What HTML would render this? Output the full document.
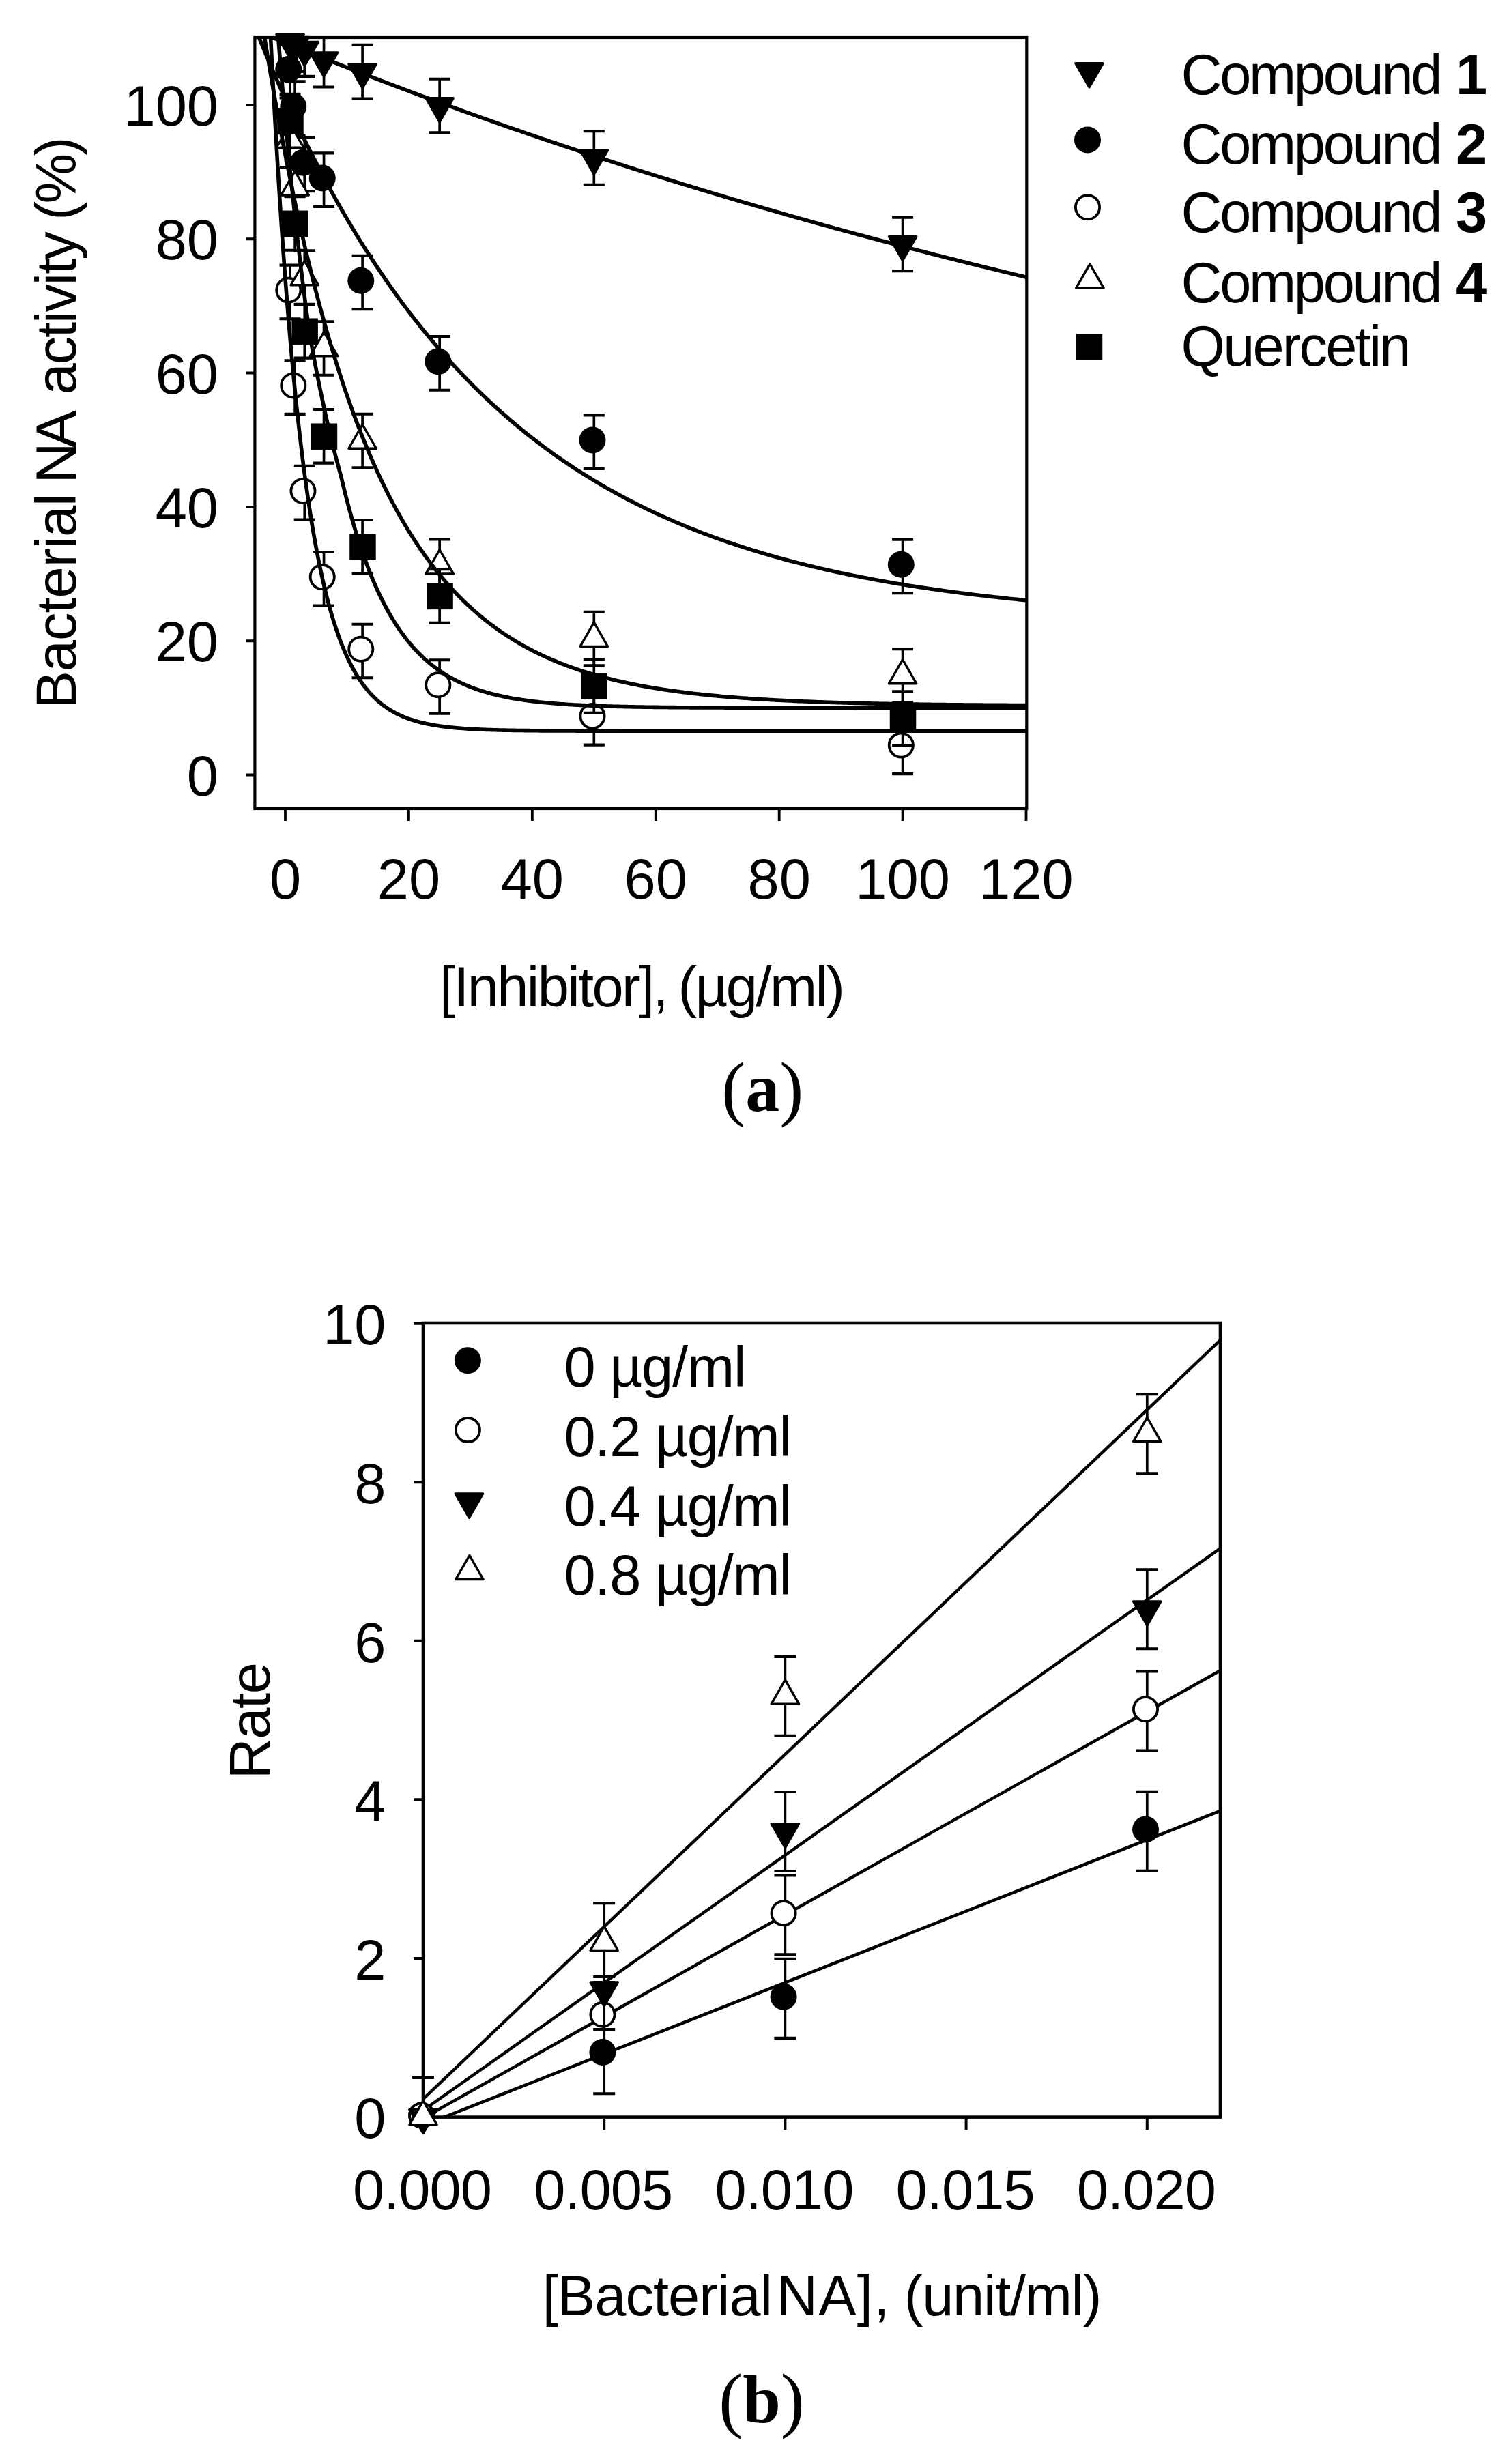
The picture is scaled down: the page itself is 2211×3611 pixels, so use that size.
<!DOCTYPE html>
<html lang="en"><head><meta charset="utf-8"><title>Bacterial NA inhibition</title>
<style>html,body{margin:0;padding:0;background:#fff}svg{display:block}text{fill:#000}</style></head><body>
<svg width="2211" height="3611" viewBox="0 0 2211 3611">
<rect x="0" y="0" width="2211" height="3611" fill="#fff"/>
<g id="chart-a">
<clipPath id="clipA"><rect x="373.4" y="55.0" width="1130.9" height="1130.0"/></clipPath>
<path d="M360 1135.5H373.4M360 939.2H373.4M360 742.9H373.4M360 546.6H373.4M360 350.3H373.4M360 154H373.4" stroke="#000" stroke-width="4" fill="none"/>
<path d="M418 1185.0V1203M598.92 1185.0V1203M779.84 1185.0V1203M960.76 1185.0V1203M1141.68 1185.0V1203M1322.6 1185.0V1203M1503.52 1185.0V1203" stroke="#000" stroke-width="3.8" fill="none"/>
<g class="series-tdown" stroke="#000" fill="#000">
<g fill="none" clip-path="url(#clipA)"><path d="M425.06 22.5V101.1" stroke-width="3.7"/><path d="M409.56 22.5h31M409.56 101.1h31" stroke-width="4.1"/><path d="M432.11 26.4V105" stroke-width="3.7"/><path d="M416.61 26.4h31M416.61 105h31" stroke-width="4.1"/><path d="M446.27 33.3V111.9" stroke-width="3.7"/><path d="M430.77 33.3h31M430.77 111.9h31" stroke-width="4.1"/><path d="M474.54 48.9V127.5" stroke-width="3.7"/><path d="M459.04 48.9h31M459.04 127.5h31" stroke-width="4.1"/><path d="M531.08 65.9V144.5" stroke-width="3.7"/><path d="M515.58 65.9h31M515.58 144.5h31" stroke-width="4.1"/><path d="M644.15 115.7V194.3" stroke-width="3.7"/><path d="M628.65 115.7h31M628.65 194.3h31" stroke-width="4.1"/><path d="M870.3 192.2V270.8" stroke-width="3.7"/><path d="M854.8 192.2h31M854.8 270.8h31" stroke-width="4.1"/><path d="M1322.6 318.7V397.3" stroke-width="3.7"/><path d="M1307.1 318.7h31M1307.1 397.3h31" stroke-width="4.1"/></g>
<g stroke="none"><polygon points="404.86,50.57 445.26,50.57 425.06,85.77" fill="#000" stroke="#000" stroke-width="3.4" stroke-linejoin="round"/><polygon points="411.91,54.47 452.31,54.47 432.11,89.67" fill="#000" stroke="#000" stroke-width="3.4" stroke-linejoin="round"/><polygon points="426.07,61.37 466.47,61.37 446.27,96.57" fill="#000" stroke="#000" stroke-width="3.4" stroke-linejoin="round"/><polygon points="454.34,76.97 494.74,76.97 474.54,112.17" fill="#000" stroke="#000" stroke-width="3.4" stroke-linejoin="round"/><polygon points="510.88,93.97 551.28,93.97 531.08,129.17" fill="#000" stroke="#000" stroke-width="3.4" stroke-linejoin="round"/><polygon points="623.95,143.77 664.35,143.77 644.15,178.97" fill="#000" stroke="#000" stroke-width="3.4" stroke-linejoin="round"/><polygon points="850.1,220.27 890.5,220.27 870.3,255.47" fill="#000" stroke="#000" stroke-width="3.4" stroke-linejoin="round"/><polygon points="1302.4,346.77 1342.8,346.77 1322.6,381.97" fill="#000" stroke="#000" stroke-width="3.4" stroke-linejoin="round"/></g>
</g>
<g class="series-cfill" stroke="#000" fill="#000">
<g fill="none" clip-path="url(#clipA)"><path d="M425.06 64.9V143.5" stroke-width="3.7"/><path d="M409.56 64.9h31M409.56 143.5h31" stroke-width="4.1"/><path d="M432.11 119.4V198" stroke-width="3.7"/><path d="M416.61 119.4h31M416.61 198h31" stroke-width="4.1"/><path d="M446.27 201.6V280.2" stroke-width="3.7"/><path d="M430.77 201.6h31M430.77 280.2h31" stroke-width="4.1"/><path d="M474.54 224.4V303" stroke-width="3.7"/><path d="M459.04 224.4h31M459.04 303h31" stroke-width="4.1"/><path d="M531.08 374.7V453.3" stroke-width="3.7"/><path d="M515.58 374.7h31M515.58 453.3h31" stroke-width="4.1"/><path d="M644.15 493.1V571.7" stroke-width="3.7"/><path d="M628.65 493.1h31M628.65 571.7h31" stroke-width="4.1"/><path d="M870.3 608.4V687" stroke-width="3.7"/><path d="M854.8 608.4h31M854.8 687h31" stroke-width="4.1"/><path d="M1322.6 790.7V869.3" stroke-width="3.7"/><path d="M1307.1 790.7h31M1307.1 869.3h31" stroke-width="4.1"/></g>
<g stroke="none"><circle cx="422.76" cy="101.5" r="19.5"/><circle cx="429.81" cy="156" r="19.5"/><circle cx="443.97" cy="238.2" r="19.5"/><circle cx="472.24" cy="261" r="19.5"/><circle cx="528.78" cy="411.3" r="19.5"/><circle cx="641.85" cy="529.7" r="19.5"/><circle cx="868" cy="645" r="19.5"/><circle cx="1320.3" cy="827.3" r="19.5"/></g>
</g>
<g class="series-copen" stroke="#000" fill="#000">
<g fill="none" clip-path="url(#clipA)"><path d="M425.06 388.6V467.2" stroke-width="3.7"/><path d="M409.56 388.6h31M409.56 467.2h31" stroke-width="4.1"/><path d="M432.11 528.3V606.9" stroke-width="3.7"/><path d="M416.61 528.3h31M416.61 606.9h31" stroke-width="4.1"/><path d="M446.27 682.9V761.5" stroke-width="3.7"/><path d="M430.77 682.9h31M430.77 761.5h31" stroke-width="4.1"/><path d="M474.54 809V887.6" stroke-width="3.7"/><path d="M459.04 809h31M459.04 887.6h31" stroke-width="4.1"/><path d="M531.08 914.7V993.3" stroke-width="3.7"/><path d="M515.58 914.7h31M515.58 993.3h31" stroke-width="4.1"/><path d="M644.15 967.2V1045.8" stroke-width="3.7"/><path d="M628.65 967.2h31M628.65 1045.8h31" stroke-width="4.1"/><path d="M870.3 1013V1091.6" stroke-width="3.7"/><path d="M854.8 1013h31M854.8 1091.6h31" stroke-width="4.1"/><path d="M1322.6 1055.5V1134.1" stroke-width="3.7"/><path d="M1307.1 1055.5h31M1307.1 1134.1h31" stroke-width="4.1"/></g>
<g stroke="none"><circle cx="422.76" cy="425.2" r="17.6" fill="#fff" stroke="#000" stroke-width="3.8"/><circle cx="429.81" cy="564.9" r="17.6" fill="#fff" stroke="#000" stroke-width="3.8"/><circle cx="443.97" cy="719.5" r="17.6" fill="#fff" stroke="#000" stroke-width="3.8"/><circle cx="472.24" cy="845.6" r="17.6" fill="#fff" stroke="#000" stroke-width="3.8"/><circle cx="528.78" cy="951.3" r="17.6" fill="#fff" stroke="#000" stroke-width="3.8"/><circle cx="641.85" cy="1003.8" r="17.6" fill="#fff" stroke="#000" stroke-width="3.8"/><circle cx="868" cy="1049.6" r="17.6" fill="#fff" stroke="#000" stroke-width="3.8"/><circle cx="1320.3" cy="1092.1" r="17.6" fill="#fff" stroke="#000" stroke-width="3.8"/></g>
</g>
<g class="series-tup" stroke="#000" fill="#000">
<g fill="none" clip-path="url(#clipA)"><path d="M425.06 166.4V245" stroke-width="3.7"/><path d="M409.56 166.4h31M409.56 245h31" stroke-width="4.1"/><path d="M432.11 235.4V314" stroke-width="3.7"/><path d="M416.61 235.4h31M416.61 314h31" stroke-width="4.1"/><path d="M446.27 367.2V445.8" stroke-width="3.7"/><path d="M430.77 367.2h31M430.77 445.8h31" stroke-width="4.1"/><path d="M474.54 471.2V549.8" stroke-width="3.7"/><path d="M459.04 471.2h31M459.04 549.8h31" stroke-width="4.1"/><path d="M531.08 606.7V685.3" stroke-width="3.7"/><path d="M515.58 606.7h31M515.58 685.3h31" stroke-width="4.1"/><path d="M644.15 790.4V869" stroke-width="3.7"/><path d="M628.65 790.4h31M628.65 869h31" stroke-width="4.1"/><path d="M870.3 896.8V975.4" stroke-width="3.7"/><path d="M854.8 896.8h31M854.8 975.4h31" stroke-width="4.1"/><path d="M1322.6 951.2V1029.8" stroke-width="3.7"/><path d="M1307.1 951.2h31M1307.1 1029.8h31" stroke-width="4.1"/></g>
<g stroke="none"><polygon points="404.86,216.93 445.26,216.93 425.06,181.73" fill="#fff" stroke="#000" stroke-width="3.4" stroke-linejoin="round"/><polygon points="411.91,285.93 452.31,285.93 432.11,250.73" fill="#fff" stroke="#000" stroke-width="3.4" stroke-linejoin="round"/><polygon points="426.07,417.73 466.47,417.73 446.27,382.53" fill="#fff" stroke="#000" stroke-width="3.4" stroke-linejoin="round"/><polygon points="454.34,521.73 494.74,521.73 474.54,486.53" fill="#fff" stroke="#000" stroke-width="3.4" stroke-linejoin="round"/><polygon points="510.88,657.23 551.28,657.23 531.08,622.03" fill="#fff" stroke="#000" stroke-width="3.4" stroke-linejoin="round"/><polygon points="623.95,840.93 664.35,840.93 644.15,805.73" fill="#fff" stroke="#000" stroke-width="3.4" stroke-linejoin="round"/><polygon points="850.1,947.33 890.5,947.33 870.3,912.13" fill="#fff" stroke="#000" stroke-width="3.4" stroke-linejoin="round"/><polygon points="1302.4,1001.73 1342.8,1001.73 1322.6,966.53" fill="#fff" stroke="#000" stroke-width="3.4" stroke-linejoin="round"/></g>
</g>
<g class="series-sq" stroke="#000" fill="#000">
<g fill="none" clip-path="url(#clipA)"><path d="M425.06 137.9V216.5" stroke-width="3.7"/><path d="M409.56 137.9h31M409.56 216.5h31" stroke-width="4.1"/><path d="M432.11 288.1V366.7" stroke-width="3.7"/><path d="M416.61 288.1h31M416.61 366.7h31" stroke-width="4.1"/><path d="M446.27 446V524.6" stroke-width="3.7"/><path d="M430.77 446h31M430.77 524.6h31" stroke-width="4.1"/><path d="M474.54 600V678.6" stroke-width="3.7"/><path d="M459.04 600h31M459.04 678.6h31" stroke-width="4.1"/><path d="M531.08 762V840.6" stroke-width="3.7"/><path d="M515.58 762h31M515.58 840.6h31" stroke-width="4.1"/><path d="M644.15 834.2V912.8" stroke-width="3.7"/><path d="M628.65 834.2h31M628.65 912.8h31" stroke-width="4.1"/><path d="M870.3 966.1V1044.7" stroke-width="3.7"/><path d="M854.8 966.1h31M854.8 1044.7h31" stroke-width="4.1"/><path d="M1322.6 1013.4V1092" stroke-width="3.7"/><path d="M1307.1 1013.4h31M1307.1 1092h31" stroke-width="4.1"/></g>
<g stroke="none"><rect x="406.21" y="158.35" width="38.5" height="38.5"/><rect x="413.26" y="308.55" width="38.5" height="38.5"/><rect x="427.42" y="466.45" width="38.5" height="38.5"/><rect x="455.69" y="620.45" width="38.5" height="38.5"/><rect x="512.23" y="782.45" width="38.5" height="38.5"/><rect x="625.3" y="854.65" width="38.5" height="38.5"/><rect x="851.45" y="986.55" width="38.5" height="38.5"/><rect x="1303.75" y="1033.85" width="38.5" height="38.5"/></g>
</g>
<g clip-path="url(#clipA)" fill="none" stroke="#000" stroke-width="5.6" stroke-linejoin="round">
<path d="M372.77 43.89 L375.6 45.07 L378.42 46.25 L381.25 47.43 L384.08 48.61 L386.9 49.79 L389.73 50.96 L392.56 52.14 L395.38 53.31 L398.21 54.48 L401.04 55.65 L403.87 56.81 L406.69 57.98 L409.52 59.14 L412.35 60.3 L415.17 61.46 L418 62.62 L420.83 63.78 L423.65 64.93 L426.48 66.09 L429.31 67.24 L432.13 68.39 L434.96 69.54 L437.79 70.69 L440.62 71.83 L443.44 72.98 L446.27 74.12 L449.1 75.26 L451.92 76.4 L454.75 77.54 L457.58 78.67 L460.4 79.81 L463.23 80.94 L466.06 82.07 L468.88 83.2 L471.71 84.33 L474.54 85.46 L477.36 86.58 L480.19 87.71 L483.02 88.83 L485.85 89.95 L488.67 91.07 L491.5 92.18 L494.33 93.3 L497.15 94.41 L499.98 95.53 L502.81 96.64 L505.63 97.75 L508.46 98.85 L511.29 99.96 L514.11 101.06 L516.94 102.17 L519.77 103.27 L522.59 104.37 L525.42 105.47 L528.25 106.56 L531.08 107.66 L533.9 108.75 L536.73 109.84 L539.56 110.94 L542.38 112.02 L545.21 113.11 L548.04 114.2 L550.86 115.28 L553.69 116.37 L556.52 117.45 L559.34 118.53 L562.17 119.61 L565 120.68 L567.82 121.76 L570.65 122.83 L573.48 123.91 L576.3 124.98 L579.13 126.05 L581.96 127.11 L584.79 128.18 L587.61 129.24 L590.44 130.31 L593.27 131.37 L596.09 132.43 L598.92 133.49 L601.75 134.55 L604.57 135.6 L607.4 136.66 L610.23 137.71 L613.05 138.76 L615.88 139.81 L618.71 140.86 L621.53 141.91 L624.36 142.95 L627.19 144 L630.02 145.04 L632.84 146.08 L635.67 147.12 L638.5 148.16 L641.32 149.2 L644.15 150.23 L646.98 151.27 L649.8 152.3 L652.63 153.33 L655.46 154.36 L658.28 155.39 L661.11 156.41 L663.94 157.44 L666.76 158.46 L669.59 159.49 L672.42 160.51 L675.25 161.53 L678.07 162.54 L680.9 163.56 L683.73 164.58 L686.55 165.59 L689.38 166.6 L692.21 167.61 L695.03 168.62 L697.86 169.63 L700.69 170.64 L703.51 171.64 L706.34 172.65 L709.17 173.65 L712 174.65 L714.82 175.65 L717.65 176.65 L720.48 177.64 L723.3 178.64 L726.13 179.63 L728.96 180.63 L731.78 181.62 L734.61 182.61 L737.44 183.6 L740.26 184.58 L743.09 185.57 L745.92 186.55 L748.74 187.54 L751.57 188.52 L754.4 189.5 L757.22 190.48 L760.05 191.45 L762.88 192.43 L765.71 193.4 L768.53 194.38 L771.36 195.35 L774.19 196.32 L777.01 197.29 L779.84 198.26 L782.67 199.22 L785.49 200.19 L788.32 201.15 L791.15 202.12 L793.97 203.08 L796.8 204.04 L799.63 204.99 L802.45 205.95 L805.28 206.91 L808.11 207.86 L810.94 208.81 L813.76 209.77 L816.59 210.72 L819.42 211.67 L822.24 212.61 L825.07 213.56 L827.9 214.5 L830.72 215.45 L833.55 216.39 L836.38 217.33 L839.2 218.27 L842.03 219.21 L844.86 220.15 L847.68 221.08 L850.51 222.02 L853.34 222.95 L856.17 223.88 L858.99 224.81 L861.82 225.74 L864.65 226.67 L867.47 227.59 L870.3 228.52 L873.13 229.44 L875.95 230.37 L878.78 231.29 L881.61 232.21 L884.43 233.13 L887.26 234.04 L890.09 234.96 L892.91 235.88 L895.74 236.79 L898.57 237.7 L901.4 238.61 L904.22 239.52 L907.05 240.43 L909.88 241.34 L912.7 242.24 L915.53 243.15 L918.36 244.05 L921.18 244.95 L924.01 245.85 L926.84 246.75 L929.66 247.65 L932.49 248.55 L935.32 249.45 L938.14 250.34 L940.97 251.23 L943.8 252.13 L946.63 253.02 L949.45 253.91 L952.28 254.79 L955.11 255.68 L957.93 256.57 L960.76 257.45 L963.59 258.33 L966.41 259.22 L969.24 260.1 L972.07 260.98 L974.89 261.86 L977.72 262.73 L980.55 263.61 L983.38 264.48 L986.2 265.36 L989.03 266.23 L991.86 267.1 L994.68 267.97 L997.51 268.84 L1000.34 269.7 L1003.16 270.57 L1005.99 271.44 L1008.82 272.3 L1011.64 273.16 L1014.47 274.02 L1017.3 274.88 L1020.12 275.74 L1022.95 276.6 L1025.78 277.46 L1028.61 278.31 L1031.43 279.16 L1034.26 280.02 L1037.09 280.87 L1039.91 281.72 L1042.74 282.57 L1045.57 283.42 L1048.39 284.26 L1051.22 285.11 L1054.05 285.95 L1056.87 286.8 L1059.7 287.64 L1062.53 288.48 L1065.35 289.32 L1068.18 290.16 L1071.01 290.99 L1073.84 291.83 L1076.66 292.67 L1079.49 293.5 L1082.32 294.33 L1085.14 295.16 L1087.97 295.99 L1090.8 296.82 L1093.62 297.65 L1096.45 298.48 L1099.28 299.3 L1102.1 300.13 L1104.93 300.95 L1107.76 301.77 L1110.58 302.59 L1113.41 303.41 L1116.24 304.23 L1119.07 305.05 L1121.89 305.87 L1124.72 306.68 L1127.55 307.5 L1130.37 308.31 L1133.2 309.12 L1136.03 309.93 L1138.85 310.74 L1141.68 311.55 L1144.51 312.36 L1147.33 313.16 L1150.16 313.97 L1152.99 314.77 L1155.81 315.57 L1158.64 316.38 L1161.47 317.18 L1164.3 317.98 L1167.12 318.77 L1169.95 319.57 L1172.78 320.37 L1175.6 321.16 L1178.43 321.96 L1181.26 322.75 L1184.08 323.54 L1186.91 324.33 L1189.74 325.12 L1192.56 325.91 L1195.39 326.7 L1198.22 327.48 L1201.04 328.27 L1203.87 329.05 L1206.7 329.83 L1209.53 330.61 L1212.35 331.39 L1215.18 332.17 L1218.01 332.95 L1220.83 333.73 L1223.66 334.51 L1226.49 335.28 L1229.31 336.05 L1232.14 336.83 L1234.97 337.6 L1237.79 338.37 L1240.62 339.14 L1243.45 339.91 L1246.27 340.67 L1249.1 341.44 L1251.93 342.21 L1254.76 342.97 L1257.58 343.73 L1260.41 344.5 L1263.24 345.26 L1266.06 346.02 L1268.89 346.78 L1271.72 347.53 L1274.54 348.29 L1277.37 349.05 L1280.2 349.8 L1283.02 350.55 L1285.85 351.31 L1288.68 352.06 L1291.5 352.81 L1294.33 353.56 L1297.16 354.31 L1299.98 355.05 L1302.81 355.8 L1305.64 356.54 L1308.47 357.29 L1311.29 358.03 L1314.12 358.77 L1316.95 359.51 L1319.77 360.25 L1322.6 360.99 L1325.43 361.73 L1328.25 362.47 L1331.08 363.2 L1333.91 363.94 L1336.73 364.67 L1339.56 365.4 L1342.39 366.13 L1345.21 366.87 L1348.04 367.6 L1350.87 368.32 L1353.7 369.05 L1356.52 369.78 L1359.35 370.5 L1362.18 371.23 L1365 371.95 L1367.83 372.67 L1370.66 373.39 L1373.48 374.11 L1376.31 374.83 L1379.14 375.55 L1381.96 376.27 L1384.79 376.99 L1387.62 377.7 L1390.44 378.42 L1393.27 379.13 L1396.1 379.84 L1398.93 380.55 L1401.75 381.26 L1404.58 381.97 L1407.41 382.68 L1410.23 383.39 L1413.06 384.09 L1415.89 384.8 L1418.71 385.5 L1421.54 386.21 L1424.37 386.91 L1427.19 387.61 L1430.02 388.31 L1432.85 389.01 L1435.67 389.71 L1438.5 390.41 L1441.33 391.1 L1444.16 391.8 L1446.98 392.49 L1449.81 393.19 L1452.64 393.88 L1455.46 394.57 L1458.29 395.26 L1461.12 395.95 L1463.94 396.64 L1466.77 397.33 L1469.6 398.01 L1472.42 398.7 L1475.25 399.38 L1478.08 400.07 L1480.9 400.75 L1483.73 401.43 L1486.56 402.11 L1489.39 402.79 L1492.21 403.47 L1495.04 404.15 L1497.87 404.83 L1500.69 405.5 L1503.52 406.18"/>
<path d="M372.77 38.14 L375.6 45.22 L378.42 52.25 L381.25 59.22 L384.08 66.14 L386.9 73 L389.73 79.8 L392.56 86.55 L395.38 93.24 L398.21 99.88 L401.04 106.46 L403.87 113 L406.69 119.48 L409.52 125.9 L412.35 132.28 L415.17 138.6 L418 144.87 L420.83 151.09 L423.65 157.26 L426.48 163.39 L429.31 169.46 L432.13 175.48 L434.96 181.45 L437.79 187.38 L440.62 193.26 L443.44 199.08 L446.27 204.87 L449.1 210.6 L451.92 216.29 L454.75 221.94 L457.58 227.53 L460.4 233.09 L463.23 238.59 L466.06 244.06 L468.88 249.47 L471.71 254.85 L474.54 260.18 L477.36 265.47 L480.19 270.71 L483.02 275.92 L485.85 281.08 L488.67 286.2 L491.5 291.28 L494.33 296.31 L497.15 301.31 L499.98 306.26 L502.81 311.18 L505.63 316.05 L508.46 320.89 L511.29 325.69 L514.11 330.44 L516.94 335.16 L519.77 339.85 L522.59 344.49 L525.42 349.1 L528.25 353.66 L531.08 358.2 L533.9 362.69 L536.73 367.15 L539.56 371.57 L542.38 375.96 L545.21 380.31 L548.04 384.63 L550.86 388.91 L553.69 393.15 L556.52 397.37 L559.34 401.54 L562.17 405.69 L565 409.8 L567.82 413.88 L570.65 417.92 L573.48 421.93 L576.3 425.91 L579.13 429.86 L581.96 433.77 L584.79 437.66 L587.61 441.51 L590.44 445.33 L593.27 449.12 L596.09 452.88 L598.92 456.61 L601.75 460.31 L604.57 463.98 L607.4 467.61 L610.23 471.22 L613.05 474.8 L615.88 478.36 L618.71 481.88 L621.53 485.37 L624.36 488.84 L627.19 492.28 L630.02 495.69 L632.84 499.07 L635.67 502.42 L638.5 505.75 L641.32 509.05 L644.15 512.33 L646.98 515.58 L649.8 518.8 L652.63 521.99 L655.46 525.16 L658.28 528.31 L661.11 531.42 L663.94 534.52 L666.76 537.59 L669.59 540.63 L672.42 543.65 L675.25 546.64 L678.07 549.61 L680.9 552.56 L683.73 555.48 L686.55 558.38 L689.38 561.25 L692.21 564.11 L695.03 566.94 L697.86 569.74 L700.69 572.52 L703.51 575.28 L706.34 578.02 L709.17 580.74 L712 583.43 L714.82 586.11 L717.65 588.76 L720.48 591.39 L723.3 593.99 L726.13 596.58 L728.96 599.15 L731.78 601.69 L734.61 604.22 L737.44 606.72 L740.26 609.2 L743.09 611.67 L745.92 614.11 L748.74 616.54 L751.57 618.94 L754.4 621.33 L757.22 623.69 L760.05 626.04 L762.88 628.37 L765.71 630.68 L768.53 632.97 L771.36 635.24 L774.19 637.49 L777.01 639.73 L779.84 641.94 L782.67 644.14 L785.49 646.32 L788.32 648.49 L791.15 650.63 L793.97 652.76 L796.8 654.87 L799.63 656.97 L802.45 659.04 L805.28 661.1 L808.11 663.15 L810.94 665.17 L813.76 667.19 L816.59 669.18 L819.42 671.16 L822.24 673.12 L825.07 675.07 L827.9 677 L830.72 678.91 L833.55 680.81 L836.38 682.7 L839.2 684.57 L842.03 686.42 L844.86 688.26 L847.68 690.08 L850.51 691.89 L853.34 693.69 L856.17 695.47 L858.99 697.23 L861.82 698.99 L864.65 700.72 L867.47 702.45 L870.3 704.16 L873.13 705.85 L875.95 707.53 L878.78 709.2 L881.61 710.86 L884.43 712.5 L887.26 714.13 L890.09 715.74 L892.91 717.34 L895.74 718.93 L898.57 720.51 L901.4 722.07 L904.22 723.62 L907.05 725.16 L909.88 726.68 L912.7 728.2 L915.53 729.7 L918.36 731.19 L921.18 732.66 L924.01 734.13 L926.84 735.58 L929.66 737.02 L932.49 738.45 L935.32 739.87 L938.14 741.28 L940.97 742.67 L943.8 744.06 L946.63 745.43 L949.45 746.79 L952.28 748.14 L955.11 749.48 L957.93 750.81 L960.76 752.13 L963.59 753.43 L966.41 754.73 L969.24 756.02 L972.07 757.29 L974.89 758.56 L977.72 759.81 L980.55 761.06 L983.38 762.29 L986.2 763.52 L989.03 764.73 L991.86 765.94 L994.68 767.13 L997.51 768.32 L1000.34 769.5 L1003.16 770.66 L1005.99 771.82 L1008.82 772.97 L1011.64 774.11 L1014.47 775.24 L1017.3 776.36 L1020.12 777.47 L1022.95 778.57 L1025.78 779.66 L1028.61 780.75 L1031.43 781.82 L1034.26 782.89 L1037.09 783.95 L1039.91 785 L1042.74 786.04 L1045.57 787.07 L1048.39 788.1 L1051.22 789.11 L1054.05 790.12 L1056.87 791.12 L1059.7 792.11 L1062.53 793.1 L1065.35 794.07 L1068.18 795.04 L1071.01 796 L1073.84 796.95 L1076.66 797.9 L1079.49 798.83 L1082.32 799.76 L1085.14 800.69 L1087.97 801.6 L1090.8 802.51 L1093.62 803.41 L1096.45 804.3 L1099.28 805.18 L1102.1 806.06 L1104.93 806.93 L1107.76 807.8 L1110.58 808.65 L1113.41 809.5 L1116.24 810.35 L1119.07 811.18 L1121.89 812.01 L1124.72 812.84 L1127.55 813.65 L1130.37 814.46 L1133.2 815.26 L1136.03 816.06 L1138.85 816.85 L1141.68 817.63 L1144.51 818.41 L1147.33 819.18 L1150.16 819.95 L1152.99 820.7 L1155.81 821.46 L1158.64 822.2 L1161.47 822.94 L1164.3 823.68 L1167.12 824.41 L1169.95 825.13 L1172.78 825.85 L1175.6 826.56 L1178.43 827.26 L1181.26 827.96 L1184.08 828.65 L1186.91 829.34 L1189.74 830.02 L1192.56 830.7 L1195.39 831.37 L1198.22 832.04 L1201.04 832.7 L1203.87 833.36 L1206.7 834.01 L1209.53 834.65 L1212.35 835.29 L1215.18 835.92 L1218.01 836.55 L1220.83 837.18 L1223.66 837.8 L1226.49 838.41 L1229.31 839.02 L1232.14 839.62 L1234.97 840.22 L1237.79 840.82 L1240.62 841.41 L1243.45 841.99 L1246.27 842.57 L1249.1 843.15 L1251.93 843.72 L1254.76 844.28 L1257.58 844.85 L1260.41 845.4 L1263.24 845.96 L1266.06 846.5 L1268.89 847.05 L1271.72 847.59 L1274.54 848.12 L1277.37 848.65 L1280.2 849.18 L1283.02 849.7 L1285.85 850.22 L1288.68 850.73 L1291.5 851.24 L1294.33 851.75 L1297.16 852.25 L1299.98 852.74 L1302.81 853.24 L1305.64 853.73 L1308.47 854.21 L1311.29 854.69 L1314.12 855.17 L1316.95 855.64 L1319.77 856.11 L1322.6 856.58 L1325.43 857.04 L1328.25 857.5 L1331.08 857.95 L1333.91 858.4 L1336.73 858.85 L1339.56 859.3 L1342.39 859.74 L1345.21 860.17 L1348.04 860.61 L1350.87 861.03 L1353.7 861.46 L1356.52 861.88 L1359.35 862.3 L1362.18 862.72 L1365 863.13 L1367.83 863.54 L1370.66 863.95 L1373.48 864.35 L1376.31 864.75 L1379.14 865.14 L1381.96 865.54 L1384.79 865.93 L1387.62 866.31 L1390.44 866.7 L1393.27 867.08 L1396.1 867.45 L1398.93 867.83 L1401.75 868.2 L1404.58 868.57 L1407.41 868.93 L1410.23 869.29 L1413.06 869.65 L1415.89 870.01 L1418.71 870.36 L1421.54 870.71 L1424.37 871.06 L1427.19 871.41 L1430.02 871.75 L1432.85 872.09 L1435.67 872.42 L1438.5 872.76 L1441.33 873.09 L1444.16 873.42 L1446.98 873.74 L1449.81 874.07 L1452.64 874.39 L1455.46 874.7 L1458.29 875.02 L1461.12 875.33 L1463.94 875.64 L1466.77 875.95 L1469.6 876.26 L1472.42 876.56 L1475.25 876.86 L1478.08 877.16 L1480.9 877.45 L1483.73 877.75 L1486.56 878.04 L1489.39 878.33 L1492.21 878.61 L1495.04 878.89 L1497.87 879.18 L1500.69 879.46 L1503.52 879.73"/>
<path d="M392.56 -30.1 L395.38 30.37 L398.21 87.51 L401.04 141.52 L403.87 192.56 L406.69 240.81 L409.52 286.4 L412.35 329.49 L415.17 370.21 L418 408.7 L420.83 445.07 L423.65 479.45 L426.48 511.94 L429.31 542.65 L432.13 571.67 L434.96 599.09 L437.79 625.02 L440.62 649.51 L443.44 672.67 L446.27 694.55 L449.1 715.23 L451.92 734.77 L454.75 753.25 L457.58 770.7 L460.4 787.2 L463.23 802.8 L466.06 817.53 L468.88 831.46 L471.71 844.62 L474.54 857.06 L477.36 868.82 L480.19 879.93 L483.02 890.44 L485.85 900.36 L488.67 909.74 L491.5 918.61 L494.33 926.99 L497.15 934.9 L499.98 942.39 L502.81 949.46 L505.63 956.15 L508.46 962.46 L511.29 968.43 L514.11 974.08 L516.94 979.41 L519.77 984.45 L522.59 989.21 L525.42 993.72 L528.25 997.97 L531.08 1001.99 L533.9 1005.79 L536.73 1009.38 L539.56 1012.78 L542.38 1015.99 L545.21 1019.02 L548.04 1021.88 L550.86 1024.59 L553.69 1027.15 L556.52 1029.57 L559.34 1031.86 L562.17 1034.02 L565 1036.06 L567.82 1037.99 L570.65 1039.81 L573.48 1041.54 L576.3 1043.17 L579.13 1044.71 L581.96 1046.16 L584.79 1047.54 L587.61 1048.84 L590.44 1050.07 L593.27 1051.23 L596.09 1052.32 L598.92 1053.36 L601.75 1054.34 L604.57 1055.27 L607.4 1056.14 L610.23 1056.97 L613.05 1057.75 L615.88 1058.49 L618.71 1059.19 L621.53 1059.85 L624.36 1060.47 L627.19 1061.06 L630.02 1061.62 L632.84 1062.15 L635.67 1062.64 L638.5 1063.11 L641.32 1063.56 L644.15 1063.98 L646.98 1064.38 L649.8 1064.75 L652.63 1065.11 L655.46 1065.44 L658.28 1065.76 L661.11 1066.06 L663.94 1066.34 L666.76 1066.61 L669.59 1066.86 L672.42 1067.1 L675.25 1067.33 L678.07 1067.54 L680.9 1067.74 L683.73 1067.93 L686.55 1068.11 L689.38 1068.28 L692.21 1068.44 L695.03 1068.59 L697.86 1068.74 L700.69 1068.87 L703.51 1069 L706.34 1069.12 L709.17 1069.24 L712 1069.35 L714.82 1069.45 L717.65 1069.55 L720.48 1069.64 L723.3 1069.72 L726.13 1069.81 L728.96 1069.88 L731.78 1069.96 L734.61 1070.02 L737.44 1070.09 L740.26 1070.15 L743.09 1070.21 L745.92 1070.26 L748.74 1070.32 L751.57 1070.37 L754.4 1070.41 L757.22 1070.46 L760.05 1070.5 L762.88 1070.54 L765.71 1070.57 L768.53 1070.61 L771.36 1070.64 L774.19 1070.67 L777.01 1070.7 L779.84 1070.73 L782.67 1070.76 L785.49 1070.78 L788.32 1070.81 L791.15 1070.83 L793.97 1070.85 L796.8 1070.87 L799.63 1070.89 L802.45 1070.91 L805.28 1070.92 L808.11 1070.94 L810.94 1070.95 L813.76 1070.97 L816.59 1070.98 L819.42 1070.99 L822.24 1071.01 L825.07 1071.02 L827.9 1071.03 L830.72 1071.04 L833.55 1071.05 L836.38 1071.06 L839.2 1071.06 L842.03 1071.07 L844.86 1071.08 L847.68 1071.09 L850.51 1071.09 L853.34 1071.1 L856.17 1071.11 L858.99 1071.11 L861.82 1071.12 L864.65 1071.12 L867.47 1071.13 L870.3 1071.13 L873.13 1071.14 L875.95 1071.14 L878.78 1071.15 L881.61 1071.15 L884.43 1071.15 L887.26 1071.16 L890.09 1071.16 L892.91 1071.16 L895.74 1071.16 L898.57 1071.17 L901.4 1071.17 L904.22 1071.17 L907.05 1071.17 L909.88 1071.18 L912.7 1071.18 L915.53 1071.18 L918.36 1071.18 L921.18 1071.18 L924.01 1071.18 L926.84 1071.19 L929.66 1071.19 L932.49 1071.19 L935.32 1071.19 L938.14 1071.19 L940.97 1071.19 L943.8 1071.19 L946.63 1071.19 L949.45 1071.2 L952.28 1071.2 L955.11 1071.2 L957.93 1071.2 L960.76 1071.2 L963.59 1071.2 L966.41 1071.2 L969.24 1071.2 L972.07 1071.2 L974.89 1071.2 L977.72 1071.2 L980.55 1071.2 L983.38 1071.2 L986.2 1071.2 L989.03 1071.2 L991.86 1071.2 L994.68 1071.21 L997.51 1071.21 L1000.34 1071.21 L1003.16 1071.21 L1005.99 1071.21 L1008.82 1071.21 L1011.64 1071.21 L1014.47 1071.21 L1017.3 1071.21 L1020.12 1071.21 L1022.95 1071.21 L1025.78 1071.21 L1028.61 1071.21 L1031.43 1071.21 L1034.26 1071.21 L1037.09 1071.21 L1039.91 1071.21 L1042.74 1071.21 L1045.57 1071.21 L1048.39 1071.21 L1051.22 1071.21 L1054.05 1071.21 L1056.87 1071.21 L1059.7 1071.21 L1062.53 1071.21 L1065.35 1071.21 L1068.18 1071.21 L1071.01 1071.21 L1073.84 1071.21 L1076.66 1071.21 L1079.49 1071.21 L1082.32 1071.21 L1085.14 1071.21 L1087.97 1071.21 L1090.8 1071.21 L1093.62 1071.21 L1096.45 1071.21 L1099.28 1071.21 L1102.1 1071.21 L1104.93 1071.21 L1107.76 1071.21 L1110.58 1071.21 L1113.41 1071.21 L1116.24 1071.21 L1119.07 1071.21 L1121.89 1071.21 L1124.72 1071.21 L1127.55 1071.21 L1130.37 1071.21 L1133.2 1071.21 L1136.03 1071.21 L1138.85 1071.21 L1141.68 1071.21 L1144.51 1071.21 L1147.33 1071.21 L1150.16 1071.21 L1152.99 1071.21 L1155.81 1071.21 L1158.64 1071.21 L1161.47 1071.21 L1164.3 1071.21 L1167.12 1071.21 L1169.95 1071.21 L1172.78 1071.21 L1175.6 1071.21 L1178.43 1071.21 L1181.26 1071.21 L1184.08 1071.21 L1186.91 1071.21 L1189.74 1071.21 L1192.56 1071.21 L1195.39 1071.21 L1198.22 1071.21 L1201.04 1071.21 L1203.87 1071.21 L1206.7 1071.21 L1209.53 1071.21 L1212.35 1071.21 L1215.18 1071.21 L1218.01 1071.21 L1220.83 1071.21 L1223.66 1071.21 L1226.49 1071.21 L1229.31 1071.21 L1232.14 1071.21 L1234.97 1071.21 L1237.79 1071.21 L1240.62 1071.21 L1243.45 1071.21 L1246.27 1071.21 L1249.1 1071.21 L1251.93 1071.21 L1254.76 1071.21 L1257.58 1071.21 L1260.41 1071.21 L1263.24 1071.21 L1266.06 1071.21 L1268.89 1071.21 L1271.72 1071.21 L1274.54 1071.21 L1277.37 1071.21 L1280.2 1071.21 L1283.02 1071.21 L1285.85 1071.21 L1288.68 1071.21 L1291.5 1071.21 L1294.33 1071.21 L1297.16 1071.21 L1299.98 1071.21 L1302.81 1071.21 L1305.64 1071.21 L1308.47 1071.21 L1311.29 1071.21 L1314.12 1071.21 L1316.95 1071.21 L1319.77 1071.21 L1322.6 1071.21 L1325.43 1071.21 L1328.25 1071.21 L1331.08 1071.21 L1333.91 1071.21 L1336.73 1071.21 L1339.56 1071.21 L1342.39 1071.21 L1345.21 1071.21 L1348.04 1071.21 L1350.87 1071.21 L1353.7 1071.21 L1356.52 1071.21 L1359.35 1071.21 L1362.18 1071.21 L1365 1071.21 L1367.83 1071.21 L1370.66 1071.21 L1373.48 1071.21 L1376.31 1071.21 L1379.14 1071.21 L1381.96 1071.21 L1384.79 1071.21 L1387.62 1071.21 L1390.44 1071.21 L1393.27 1071.21 L1396.1 1071.21 L1398.93 1071.21 L1401.75 1071.21 L1404.58 1071.21 L1407.41 1071.21 L1410.23 1071.21 L1413.06 1071.21 L1415.89 1071.21 L1418.71 1071.21 L1421.54 1071.21 L1424.37 1071.21 L1427.19 1071.21 L1430.02 1071.21 L1432.85 1071.21 L1435.67 1071.21 L1438.5 1071.21 L1441.33 1071.21 L1444.16 1071.21 L1446.98 1071.21 L1449.81 1071.21 L1452.64 1071.21 L1455.46 1071.21 L1458.29 1071.21 L1461.12 1071.21 L1463.94 1071.21 L1466.77 1071.21 L1469.6 1071.21 L1472.42 1071.21 L1475.25 1071.21 L1478.08 1071.21 L1480.9 1071.21 L1483.73 1071.21 L1486.56 1071.21 L1489.39 1071.21 L1492.21 1071.21 L1495.04 1071.21 L1497.87 1071.21 L1500.69 1071.21 L1503.52 1071.21"/>
<path d="M372.77 -42.05 L375.6 -22.91 L378.42 -4.1 L381.25 14.37 L384.08 32.51 L386.9 50.33 L389.73 67.84 L392.56 85.03 L395.38 101.92 L398.21 118.5 L401.04 134.79 L403.87 150.79 L406.69 166.51 L409.52 181.95 L412.35 197.11 L415.17 212 L418 226.63 L420.83 241 L423.65 255.11 L426.48 268.97 L429.31 282.59 L432.13 295.96 L434.96 309.09 L437.79 321.99 L440.62 334.67 L443.44 347.11 L446.27 359.34 L449.1 371.34 L451.92 383.14 L454.75 394.72 L457.58 406.1 L460.4 417.28 L463.23 428.25 L466.06 439.03 L468.88 449.62 L471.71 460.02 L474.54 470.24 L477.36 480.28 L480.19 490.13 L483.02 499.81 L485.85 509.32 L488.67 518.66 L491.5 527.83 L494.33 536.84 L497.15 545.69 L499.98 554.39 L502.81 562.93 L505.63 571.31 L508.46 579.55 L511.29 587.64 L514.11 595.59 L516.94 603.39 L519.77 611.06 L522.59 618.59 L525.42 625.98 L528.25 633.25 L531.08 640.38 L533.9 647.39 L536.73 654.28 L539.56 661.04 L542.38 667.68 L545.21 674.2 L548.04 680.61 L550.86 686.9 L553.69 693.08 L556.52 699.15 L559.34 705.12 L562.17 710.97 L565 716.73 L567.82 722.38 L570.65 727.93 L573.48 733.38 L576.3 738.73 L579.13 743.99 L581.96 749.16 L584.79 754.23 L587.61 759.21 L590.44 764.11 L593.27 768.92 L596.09 773.64 L598.92 778.28 L601.75 782.83 L604.57 787.31 L607.4 791.7 L610.23 796.02 L613.05 800.26 L615.88 804.42 L618.71 808.51 L621.53 812.53 L624.36 816.48 L627.19 820.35 L630.02 824.16 L632.84 827.9 L635.67 831.57 L638.5 835.18 L641.32 838.73 L644.15 842.21 L646.98 845.62 L649.8 848.98 L652.63 852.28 L655.46 855.52 L658.28 858.7 L661.11 861.83 L663.94 864.9 L666.76 867.91 L669.59 870.87 L672.42 873.78 L675.25 876.64 L678.07 879.44 L680.9 882.2 L683.73 884.91 L686.55 887.57 L689.38 890.18 L692.21 892.74 L695.03 895.26 L697.86 897.74 L700.69 900.17 L703.51 902.56 L706.34 904.9 L709.17 907.21 L712 909.47 L714.82 911.69 L717.65 913.87 L720.48 916.02 L723.3 918.12 L726.13 920.19 L728.96 922.22 L731.78 924.22 L734.61 926.18 L737.44 928.1 L740.26 929.99 L743.09 931.85 L745.92 933.68 L748.74 935.47 L751.57 937.23 L754.4 938.96 L757.22 940.65 L760.05 942.32 L762.88 943.96 L765.71 945.57 L768.53 947.15 L771.36 948.7 L774.19 950.22 L777.01 951.72 L779.84 953.19 L782.67 954.64 L785.49 956.06 L788.32 957.45 L791.15 958.82 L793.97 960.16 L796.8 961.48 L799.63 962.78 L802.45 964.05 L805.28 965.31 L808.11 966.53 L810.94 967.74 L813.76 968.93 L816.59 970.09 L819.42 971.24 L822.24 972.36 L825.07 973.46 L827.9 974.55 L830.72 975.61 L833.55 976.66 L836.38 977.68 L839.2 978.69 L842.03 979.68 L844.86 980.66 L847.68 981.61 L850.51 982.55 L853.34 983.47 L856.17 984.38 L858.99 985.27 L861.82 986.14 L864.65 987 L867.47 987.85 L870.3 988.67 L873.13 989.49 L875.95 990.29 L878.78 991.07 L881.61 991.84 L884.43 992.6 L887.26 993.34 L890.09 994.07 L892.91 994.79 L895.74 995.5 L898.57 996.19 L901.4 996.87 L904.22 997.53 L907.05 998.19 L909.88 998.83 L912.7 999.47 L915.53 1000.09 L918.36 1000.7 L921.18 1001.3 L924.01 1001.89 L926.84 1002.47 L929.66 1003.03 L932.49 1003.59 L935.32 1004.14 L938.14 1004.68 L940.97 1005.21 L943.8 1005.73 L946.63 1006.24 L949.45 1006.74 L952.28 1007.23 L955.11 1007.71 L957.93 1008.19 L960.76 1008.65 L963.59 1009.11 L966.41 1009.56 L969.24 1010 L972.07 1010.44 L974.89 1010.86 L977.72 1011.28 L980.55 1011.69 L983.38 1012.1 L986.2 1012.5 L989.03 1012.88 L991.86 1013.27 L994.68 1013.64 L997.51 1014.01 L1000.34 1014.38 L1003.16 1014.73 L1005.99 1015.08 L1008.82 1015.43 L1011.64 1015.76 L1014.47 1016.09 L1017.3 1016.42 L1020.12 1016.74 L1022.95 1017.05 L1025.78 1017.36 L1028.61 1017.67 L1031.43 1017.96 L1034.26 1018.26 L1037.09 1018.54 L1039.91 1018.83 L1042.74 1019.1 L1045.57 1019.38 L1048.39 1019.64 L1051.22 1019.91 L1054.05 1020.16 L1056.87 1020.42 L1059.7 1020.67 L1062.53 1020.91 L1065.35 1021.15 L1068.18 1021.39 L1071.01 1021.62 L1073.84 1021.84 L1076.66 1022.07 L1079.49 1022.29 L1082.32 1022.5 L1085.14 1022.71 L1087.97 1022.92 L1090.8 1023.13 L1093.62 1023.33 L1096.45 1023.52 L1099.28 1023.72 L1102.1 1023.91 L1104.93 1024.09 L1107.76 1024.28 L1110.58 1024.46 L1113.41 1024.64 L1116.24 1024.81 L1119.07 1024.98 L1121.89 1025.15 L1124.72 1025.31 L1127.55 1025.47 L1130.37 1025.63 L1133.2 1025.79 L1136.03 1025.94 L1138.85 1026.09 L1141.68 1026.24 L1144.51 1026.39 L1147.33 1026.53 L1150.16 1026.67 L1152.99 1026.81 L1155.81 1026.94 L1158.64 1027.07 L1161.47 1027.2 L1164.3 1027.33 L1167.12 1027.46 L1169.95 1027.58 L1172.78 1027.7 L1175.6 1027.82 L1178.43 1027.94 L1181.26 1028.05 L1184.08 1028.17 L1186.91 1028.28 L1189.74 1028.39 L1192.56 1028.49 L1195.39 1028.6 L1198.22 1028.7 L1201.04 1028.8 L1203.87 1028.9 L1206.7 1029 L1209.53 1029.1 L1212.35 1029.19 L1215.18 1029.28 L1218.01 1029.38 L1220.83 1029.47 L1223.66 1029.55 L1226.49 1029.64 L1229.31 1029.72 L1232.14 1029.81 L1234.97 1029.89 L1237.79 1029.97 L1240.62 1030.05 L1243.45 1030.13 L1246.27 1030.2 L1249.1 1030.28 L1251.93 1030.35 L1254.76 1030.42 L1257.58 1030.49 L1260.41 1030.56 L1263.24 1030.63 L1266.06 1030.7 L1268.89 1030.76 L1271.72 1030.83 L1274.54 1030.89 L1277.37 1030.96 L1280.2 1031.02 L1283.02 1031.08 L1285.85 1031.14 L1288.68 1031.19 L1291.5 1031.25 L1294.33 1031.31 L1297.16 1031.36 L1299.98 1031.42 L1302.81 1031.47 L1305.64 1031.52 L1308.47 1031.57 L1311.29 1031.62 L1314.12 1031.67 L1316.95 1031.72 L1319.77 1031.77 L1322.6 1031.82 L1325.43 1031.86 L1328.25 1031.91 L1331.08 1031.95 L1333.91 1032 L1336.73 1032.04 L1339.56 1032.08 L1342.39 1032.12 L1345.21 1032.16 L1348.04 1032.2 L1350.87 1032.24 L1353.7 1032.28 L1356.52 1032.32 L1359.35 1032.36 L1362.18 1032.39 L1365 1032.43 L1367.83 1032.46 L1370.66 1032.5 L1373.48 1032.53 L1376.31 1032.56 L1379.14 1032.6 L1381.96 1032.63 L1384.79 1032.66 L1387.62 1032.69 L1390.44 1032.72 L1393.27 1032.75 L1396.1 1032.78 L1398.93 1032.81 L1401.75 1032.84 L1404.58 1032.87 L1407.41 1032.89 L1410.23 1032.92 L1413.06 1032.95 L1415.89 1032.97 L1418.71 1033 L1421.54 1033.02 L1424.37 1033.05 L1427.19 1033.07 L1430.02 1033.1 L1432.85 1033.12 L1435.67 1033.14 L1438.5 1033.17 L1441.33 1033.19 L1444.16 1033.21 L1446.98 1033.23 L1449.81 1033.25 L1452.64 1033.27 L1455.46 1033.29 L1458.29 1033.31 L1461.12 1033.33 L1463.94 1033.35 L1466.77 1033.37 L1469.6 1033.39 L1472.42 1033.41 L1475.25 1033.42 L1478.08 1033.44 L1480.9 1033.46 L1483.73 1033.47 L1486.56 1033.49 L1489.39 1033.51 L1492.21 1033.52 L1495.04 1033.54 L1497.87 1033.55 L1500.69 1033.57 L1503.52 1033.58"/>
<path d="M398.21 -70.76 L401.04 -31.75 L403.87 5.89 L406.69 42.21 L409.52 77.25 L412.35 111.05 L415.17 143.67 L418 175.13 L420.83 205.49 L423.65 234.78 L426.48 263.04 L429.31 290.3 L432.13 316.6 L434.96 341.98 L437.79 366.46 L440.62 390.08 L443.44 412.87 L446.27 434.86 L449.1 456.07 L451.92 476.54 L454.75 495.59 L457.58 511.28 L460.4 526.52 L463.23 541.31 L466.06 555.68 L468.88 569.63 L471.71 583.18 L474.54 596.33 L477.36 609.11 L480.19 621.51 L483.02 633.55 L485.85 645.25 L488.67 656.61 L491.5 667.63 L494.33 678.34 L497.15 688.74 L499.98 699.27 L502.81 711.18 L505.63 722.66 L508.46 733.74 L511.29 744.43 L514.11 754.74 L516.94 764.7 L519.77 774.3 L522.59 783.56 L525.42 792.49 L528.25 801.11 L531.08 809.43 L533.9 817.46 L536.73 825.2 L539.56 832.67 L542.38 839.87 L545.21 846.83 L548.04 853.54 L550.86 860.01 L553.69 866.25 L556.52 872.28 L559.34 878.09 L562.17 883.7 L565 889.11 L567.82 894.33 L570.65 899.36 L573.48 904.22 L576.3 908.91 L579.13 913.43 L581.96 917.79 L584.79 922 L587.61 926.06 L590.44 929.98 L593.27 933.76 L596.09 937.41 L598.92 940.93 L601.75 944.32 L604.57 947.6 L607.4 950.76 L610.23 953.81 L613.05 956.75 L615.88 959.59 L618.71 962.32 L621.53 964.97 L624.36 967.51 L627.19 969.97 L630.02 972.35 L632.84 974.63 L635.67 976.84 L638.5 978.97 L641.32 981.03 L644.15 983.01 L646.98 984.92 L649.8 986.77 L652.63 988.55 L655.46 990.27 L658.28 991.93 L661.11 993.53 L663.94 995.07 L666.76 996.56 L669.59 997.99 L672.42 999.38 L675.25 1000.72 L678.07 1002.01 L680.9 1003.25 L683.73 1004.45 L686.55 1005.61 L689.38 1006.73 L692.21 1007.81 L695.03 1008.85 L697.86 1009.85 L700.69 1010.82 L703.51 1011.75 L706.34 1012.65 L709.17 1013.52 L712 1014.36 L714.82 1015.17 L717.65 1015.95 L720.48 1016.71 L723.3 1017.43 L726.13 1018.13 L728.96 1018.81 L731.78 1019.46 L734.61 1020.09 L737.44 1020.7 L740.26 1021.29 L743.09 1021.85 L745.92 1022.4 L748.74 1022.92 L751.57 1023.43 L754.4 1023.92 L757.22 1024.39 L760.05 1024.85 L762.88 1025.29 L765.71 1025.72 L768.53 1026.13 L771.36 1026.52 L774.19 1026.9 L777.01 1027.27 L779.84 1027.62 L782.67 1027.97 L785.49 1028.3 L788.32 1028.62 L791.15 1028.92 L793.97 1029.22 L796.8 1029.51 L799.63 1029.78 L802.45 1030.05 L805.28 1030.31 L808.11 1030.55 L810.94 1030.79 L813.76 1031.02 L816.59 1031.25 L819.42 1031.46 L822.24 1031.67 L825.07 1031.87 L827.9 1032.06 L830.72 1032.25 L833.55 1032.43 L836.38 1032.6 L839.2 1032.77 L842.03 1032.93 L844.86 1033.09 L847.68 1033.24 L850.51 1033.38 L853.34 1033.52 L856.17 1033.66 L858.99 1033.79 L861.82 1033.91 L864.65 1034.03 L867.47 1034.15 L870.3 1034.26 L873.13 1034.37 L875.95 1034.48 L878.78 1034.58 L881.61 1034.67 L884.43 1034.77 L887.26 1034.86 L890.09 1034.95 L892.91 1035.03 L895.74 1035.11 L898.57 1035.19 L901.4 1035.27 L904.22 1035.34 L907.05 1035.41 L909.88 1035.48 L912.7 1035.55 L915.53 1035.61 L918.36 1035.67 L921.18 1035.73 L924.01 1035.79 L926.84 1035.84 L929.66 1035.89 L932.49 1035.95 L935.32 1036 L938.14 1036.04 L940.97 1036.09 L943.8 1036.13 L946.63 1036.18 L949.45 1036.22 L952.28 1036.26 L955.11 1036.3 L957.93 1036.33 L960.76 1036.37 L963.59 1036.4 L966.41 1036.44 L969.24 1036.47 L972.07 1036.5 L974.89 1036.53 L977.72 1036.56 L980.55 1036.59 L983.38 1036.61 L986.2 1036.64 L989.03 1036.66 L991.86 1036.69 L994.68 1036.71 L997.51 1036.73 L1000.34 1036.76 L1003.16 1036.78 L1005.99 1036.8 L1008.82 1036.82 L1011.64 1036.84 L1014.47 1036.85 L1017.3 1036.87 L1020.12 1036.89 L1022.95 1036.9 L1025.78 1036.92 L1028.61 1036.94 L1031.43 1036.95 L1034.26 1036.96 L1037.09 1036.98 L1039.91 1036.99 L1042.74 1037 L1045.57 1037.02 L1048.39 1037.03 L1051.22 1037.04 L1054.05 1037.05 L1056.87 1037.06 L1059.7 1037.07 L1062.53 1037.08 L1065.35 1037.09 L1068.18 1037.1 L1071.01 1037.11 L1073.84 1037.12 L1076.66 1037.12 L1079.49 1037.13 L1082.32 1037.14 L1085.14 1037.15 L1087.97 1037.15 L1090.8 1037.16 L1093.62 1037.17 L1096.45 1037.17 L1099.28 1037.18 L1102.1 1037.19 L1104.93 1037.19 L1107.76 1037.2 L1110.58 1037.2 L1113.41 1037.21 L1116.24 1037.21 L1119.07 1037.22 L1121.89 1037.22 L1124.72 1037.23 L1127.55 1037.23 L1130.37 1037.24 L1133.2 1037.24 L1136.03 1037.24 L1138.85 1037.25 L1141.68 1037.25 L1144.51 1037.25 L1147.33 1037.26 L1150.16 1037.26 L1152.99 1037.26 L1155.81 1037.27 L1158.64 1037.27 L1161.47 1037.27 L1164.3 1037.28 L1167.12 1037.28 L1169.95 1037.28 L1172.78 1037.28 L1175.6 1037.29 L1178.43 1037.29 L1181.26 1037.29 L1184.08 1037.29 L1186.91 1037.29 L1189.74 1037.3 L1192.56 1037.3 L1195.39 1037.3 L1198.22 1037.3 L1201.04 1037.3 L1203.87 1037.31 L1206.7 1037.31 L1209.53 1037.31 L1212.35 1037.31 L1215.18 1037.31 L1218.01 1037.31 L1220.83 1037.31 L1223.66 1037.32 L1226.49 1037.32 L1229.31 1037.32 L1232.14 1037.32 L1234.97 1037.32 L1237.79 1037.32 L1240.62 1037.32 L1243.45 1037.32 L1246.27 1037.32 L1249.1 1037.32 L1251.93 1037.33 L1254.76 1037.33 L1257.58 1037.33 L1260.41 1037.33 L1263.24 1037.33 L1266.06 1037.33 L1268.89 1037.33 L1271.72 1037.33 L1274.54 1037.33 L1277.37 1037.33 L1280.2 1037.33 L1283.02 1037.33 L1285.85 1037.33 L1288.68 1037.33 L1291.5 1037.34 L1294.33 1037.34 L1297.16 1037.34 L1299.98 1037.34 L1302.81 1037.34 L1305.64 1037.34 L1308.47 1037.34 L1311.29 1037.34 L1314.12 1037.34 L1316.95 1037.34 L1319.77 1037.34 L1322.6 1037.34 L1325.43 1037.34 L1328.25 1037.34 L1331.08 1037.34 L1333.91 1037.34 L1336.73 1037.34 L1339.56 1037.34 L1342.39 1037.34 L1345.21 1037.34 L1348.04 1037.34 L1350.87 1037.34 L1353.7 1037.34 L1356.52 1037.34 L1359.35 1037.34 L1362.18 1037.34 L1365 1037.34 L1367.83 1037.34 L1370.66 1037.34 L1373.48 1037.34 L1376.31 1037.34 L1379.14 1037.35 L1381.96 1037.35 L1384.79 1037.35 L1387.62 1037.35 L1390.44 1037.35 L1393.27 1037.35 L1396.1 1037.35 L1398.93 1037.35 L1401.75 1037.35 L1404.58 1037.35 L1407.41 1037.35 L1410.23 1037.35 L1413.06 1037.35 L1415.89 1037.35 L1418.71 1037.35 L1421.54 1037.35 L1424.37 1037.35 L1427.19 1037.35 L1430.02 1037.35 L1432.85 1037.35 L1435.67 1037.35 L1438.5 1037.35 L1441.33 1037.35 L1444.16 1037.35 L1446.98 1037.35 L1449.81 1037.35 L1452.64 1037.35 L1455.46 1037.35 L1458.29 1037.35 L1461.12 1037.35 L1463.94 1037.35 L1466.77 1037.35 L1469.6 1037.35 L1472.42 1037.35 L1475.25 1037.35 L1478.08 1037.35 L1480.9 1037.35 L1483.73 1037.35 L1486.56 1037.35 L1489.39 1037.35 L1492.21 1037.35 L1495.04 1037.35 L1497.87 1037.35 L1500.69 1037.35 L1503.52 1037.35"/>
</g>
<rect x="373.4" y="55.0" width="1130.9" height="1130.0" fill="none" stroke="#000" stroke-width="4.2"/>
<g font-family="Liberation Sans, Arial, Helvetica, sans-serif" font-size="83">
<text x="320" y="1165.5" text-anchor="end">0</text>
<text x="320" y="969.2" text-anchor="end">20</text>
<text x="320" y="772.9" text-anchor="end">40</text>
<text x="320" y="576.6" text-anchor="end">60</text>
<text x="320" y="380.3" text-anchor="end">80</text>
<text x="320" y="184" text-anchor="end">100</text>
<text x="418" y="1316.5" text-anchor="middle">0</text>
<text x="598.92" y="1316.5" text-anchor="middle">20</text>
<text x="779.84" y="1316.5" text-anchor="middle">40</text>
<text x="960.76" y="1316.5" text-anchor="middle">60</text>
<text x="1141.68" y="1316.5" text-anchor="middle">80</text>
<text x="1322.6" y="1316.5" text-anchor="middle">100</text>
<text x="1503.52" y="1316.5" text-anchor="middle">120</text>
<text x="643.88" y="1474.5" textLength="335.57" lengthAdjust="spacing">[Inhibitor],</text>
<text x="993.55" y="1474.5" textLength="244.39" lengthAdjust="spacing">(µg/ml)</text>
<text transform="translate(110.6 1038.51) rotate(-90)" textLength="315.06" lengthAdjust="spacing">Bacterial</text>
<text transform="translate(110.6 708.51) rotate(-90)" textLength="107.17" lengthAdjust="spacing">NA</text>
<text transform="translate(110.6 578.43) rotate(-90)" textLength="239.09" lengthAdjust="spacing">activity</text>
<text transform="translate(110.6 322.65) rotate(-90)" textLength="122.09" lengthAdjust="spacing">(%)</text>
<g stroke="none"><polygon points="1575.8,92.67 1616.2,92.67 1596,127.87" fill="#000" stroke="#000" stroke-width="3.4" stroke-linejoin="round"/></g>
<text x="1730.5" y="137.8" textLength="383" lengthAdjust="spacing">Compound</text>
<text x="2133" y="137.8" font-weight="bold">1</text>
<g stroke="none"><circle cx="1593.5" cy="205" r="19.5"/></g>
<text x="1730.5" y="240.4" textLength="383" lengthAdjust="spacing">Compound</text>
<text x="2133" y="240.4" font-weight="bold">2</text>
<g stroke="none"><circle cx="1593.5" cy="303.8" r="17.6" fill="#fff" stroke="#000" stroke-width="3.8"/></g>
<text x="1730.5" y="340" textLength="383" lengthAdjust="spacing">Compound</text>
<text x="2133" y="340" font-weight="bold">3</text>
<g stroke="none"><polygon points="1576.7,422.03 1617.1,422.03 1596.9,386.83" fill="#fff" stroke="#000" stroke-width="3.4" stroke-linejoin="round"/></g>
<text x="1730.5" y="442.9" textLength="383" lengthAdjust="spacing">Compound</text>
<text x="2133" y="442.9" font-weight="bold">4</text>
<g stroke="none"><rect x="1576.75" y="489.35" width="38.5" height="38.5"/></g>
<text x="1730.5" y="536.2" textLength="337" lengthAdjust="spacing">Quercetin</text>
</g>
<text x="1117.3" y="1627.5" text-anchor="middle" font-family="Liberation Serif, Times New Roman, serif" font-size="100"><tspan font-size="105" dy="2">(</tspan><tspan font-weight="bold" dy="-2">a</tspan><tspan font-size="105" dy="2">)</tspan></text>
</g>
<g id="chart-b">
<clipPath id="clipB"><rect x="620.0" y="1939.0" width="1168.0" height="1163.6"/></clipPath>
<path d="M606 3102.6H620.0M606 2870H620.0M606 2637.4H620.0M606 2404.8H620.0M606 2172.2H620.0M606 1939.6H620.0" stroke="#000" stroke-width="4.2" fill="none"/>
<path d="M620 3102.6V3121.3M885.2 3102.6V3121.3M1150.4 3102.6V3121.3M1415.6 3102.6V3121.3M1680.8 3102.6V3121.3" stroke="#000" stroke-width="4" fill="none"/>
<g clip-path="url(#clipB)" fill="none" stroke="#000" stroke-width="4.5">
<path d="M620.0 3114.8L1788.0 2653.8"/>
<path d="M620.0 3104.1L1788.0 2448.1"/>
<path d="M620.0 3092.7L1788.0 2269.2"/>
<path d="M620.0 3076.1L1788.0 1963.9"/>
</g>
<rect x="620.0" y="1939.0" width="1168.0" height="1163.6" fill="none" stroke="#000" stroke-width="4.6"/>
<g class="series-cfill" stroke="#000" fill="#000">
<g fill="none"><path d="M620 3044.6V3102.6" stroke-width="3.7"/><path d="M604.5 3044.6h31" stroke-width="4.1"/><path d="M885.2 2952.3V3068.3" stroke-width="3.7"/><path d="M869.2 2952.3h32M869.2 3068.3h32" stroke-width="4.1"/><path d="M1150.4 2870.9V2986.9" stroke-width="3.7"/><path d="M1134.4 2870.9h32M1134.4 2986.9h32" stroke-width="4.1"/><path d="M1680.8 2625.8V2741.8" stroke-width="3.7"/><path d="M1664.8 2625.8h32M1664.8 2741.8h32" stroke-width="4.1"/></g>
<g stroke="none"><circle cx="617.7" cy="3099.9" r="19.5"/><circle cx="882.9" cy="3007.6" r="19.5"/><circle cx="1148.1" cy="2926.2" r="19.5"/><circle cx="1678.5" cy="2681.1" r="19.5"/></g>
</g>
<g class="series-copen" stroke="#000" fill="#000">
<g fill="none"><path d="M620 3044.6V3102.6" stroke-width="3.7"/><path d="M604.5 3044.6h31" stroke-width="4.1"/><path d="M885.2 2897V3013" stroke-width="3.7"/><path d="M869.2 2897h32M869.2 3013h32" stroke-width="4.1"/><path d="M1150.4 2748.4V2864.4" stroke-width="3.7"/><path d="M1134.4 2748.4h32M1134.4 2864.4h32" stroke-width="4.1"/><path d="M1680.8 2449.5V2565.5" stroke-width="3.7"/><path d="M1664.8 2449.5h32M1664.8 2565.5h32" stroke-width="4.1"/></g>
<g stroke="none"><circle cx="617.7" cy="3099.9" r="17.6" fill="#fff" stroke="#000" stroke-width="3.8"/><circle cx="882.9" cy="2952.3" r="17.6" fill="#fff" stroke="#000" stroke-width="3.8"/><circle cx="1148.1" cy="2803.7" r="17.6" fill="#fff" stroke="#000" stroke-width="3.8"/><circle cx="1678.5" cy="2504.8" r="17.6" fill="#fff" stroke="#000" stroke-width="3.8"/></g>
</g>
<g class="series-tdown" stroke="#000" fill="#000">
<g fill="none"><path d="M620 3044.6V3102.6" stroke-width="3.7"/><path d="M604.5 3044.6h31" stroke-width="4.1"/><path d="M885.2 2858.1V2974.1" stroke-width="3.7"/><path d="M869.2 2858.1h32M869.2 2974.1h32" stroke-width="4.1"/><path d="M1150.4 2626V2742" stroke-width="3.7"/><path d="M1134.4 2626h32M1134.4 2742h32" stroke-width="4.1"/><path d="M1680.8 2300.2V2416.2" stroke-width="3.7"/><path d="M1664.8 2300.2h32M1664.8 2416.2h32" stroke-width="4.1"/></g>
<g stroke="none"><polygon points="599.8,3091.37 640.2,3091.37 620,3126.57" fill="#000" stroke="#000" stroke-width="3.4" stroke-linejoin="round"/><polygon points="865,2904.87 905.4,2904.87 885.2,2940.07" fill="#000" stroke="#000" stroke-width="3.4" stroke-linejoin="round"/><polygon points="1130.2,2672.77 1170.6,2672.77 1150.4,2707.97" fill="#000" stroke="#000" stroke-width="3.4" stroke-linejoin="round"/><polygon points="1660.6,2346.97 1701,2346.97 1680.8,2382.17" fill="#000" stroke="#000" stroke-width="3.4" stroke-linejoin="round"/></g>
</g>
<g class="series-tup" stroke="#000" fill="#000">
<g fill="none"><path d="M620 3044.6V3102.6" stroke-width="3.7"/><path d="M604.5 3044.6h31" stroke-width="4.1"/><path d="M885.2 2789.1V2905.1" stroke-width="3.7"/><path d="M869.2 2789.1h32M869.2 2905.1h32" stroke-width="4.1"/><path d="M1150.4 2427.9V2543.9" stroke-width="3.7"/><path d="M1134.4 2427.9h32M1134.4 2543.9h32" stroke-width="4.1"/><path d="M1680.8 2043.3V2159.3" stroke-width="3.7"/><path d="M1664.8 2043.3h32M1664.8 2159.3h32" stroke-width="4.1"/></g>
<g stroke="none"><polygon points="599.8,3113.83 640.2,3113.83 620,3078.63" fill="#fff" stroke="#000" stroke-width="3.4" stroke-linejoin="round"/><polygon points="865,2858.33 905.4,2858.33 885.2,2823.13" fill="#fff" stroke="#000" stroke-width="3.4" stroke-linejoin="round"/><polygon points="1130.2,2497.13 1170.6,2497.13 1150.4,2461.93" fill="#fff" stroke="#000" stroke-width="3.4" stroke-linejoin="round"/><polygon points="1660.6,2112.53 1701,2112.53 1680.8,2077.33" fill="#fff" stroke="#000" stroke-width="3.4" stroke-linejoin="round"/></g>
</g>
<g font-family="Liberation Sans, Arial, Helvetica, sans-serif" font-size="83">
<text x="565.5" y="3133.3" text-anchor="end">0</text>
<text x="565.5" y="2900.7" text-anchor="end">2</text>
<text x="565.5" y="2668.1" text-anchor="end">4</text>
<text x="565.5" y="2435.5" text-anchor="end">6</text>
<text x="565.5" y="2202.9" text-anchor="end">8</text>
<text x="565.5" y="1970.3" text-anchor="end">10</text>
<text x="619" y="3238" text-anchor="middle" textLength="204" lengthAdjust="spacing">0.000</text>
<text x="884.2" y="3238" text-anchor="middle" textLength="204" lengthAdjust="spacing">0.005</text>
<text x="1149.4" y="3238" text-anchor="middle" textLength="204" lengthAdjust="spacing">0.010</text>
<text x="1414.6" y="3238" text-anchor="middle" textLength="204" lengthAdjust="spacing">0.015</text>
<text x="1679.8" y="3238" text-anchor="middle" textLength="204" lengthAdjust="spacing">0.020</text>
<text x="794.68" y="3392.5" textLength="337.37" lengthAdjust="spacing">[Bacterial</text>
<text x="1137.89" y="3392.5" textLength="165.37" lengthAdjust="spacing">NA],</text>
<text x="1324.85" y="3392.5" textLength="289.49" lengthAdjust="spacing">(unit/ml)</text>
<text transform="translate(395.4 2607.31) rotate(-90)" textLength="171.2" lengthAdjust="spacing">Rate</text>
<g stroke="none"><circle cx="685.4" cy="1993.8" r="19.5"/></g>
<text x="826.4" y="2032" textLength="267" lengthAdjust="spacing">0 µg/ml</text>
<g stroke="none"><circle cx="685.4" cy="2095.6" r="17.6" fill="#fff" stroke="#000" stroke-width="3.8"/></g>
<text x="826.4" y="2133.8" textLength="333.5" lengthAdjust="spacing">0.2 µg/ml</text>
<g stroke="none"><polygon points="667.2,2189.07 707.6,2189.07 687.4,2224.27" fill="#000" stroke="#000" stroke-width="3.4" stroke-linejoin="round"/></g>
<text x="826.4" y="2236" textLength="333.5" lengthAdjust="spacing">0.4 µg/ml</text>
<g stroke="none"><polygon points="667.7,2314.63 708.1,2314.63 687.9,2279.43" fill="#fff" stroke="#000" stroke-width="3.4" stroke-linejoin="round"/></g>
<text x="826.4" y="2337.4" textLength="333.5" lengthAdjust="spacing">0.8 µg/ml</text>
</g>
<text x="1116" y="3549.5" text-anchor="middle" font-family="Liberation Serif, Times New Roman, serif" font-size="100"><tspan font-size="105" dy="2">(</tspan><tspan font-weight="bold" dy="-2">b</tspan><tspan font-size="105" dy="2">)</tspan></text>
</g>
</svg></body></html>
